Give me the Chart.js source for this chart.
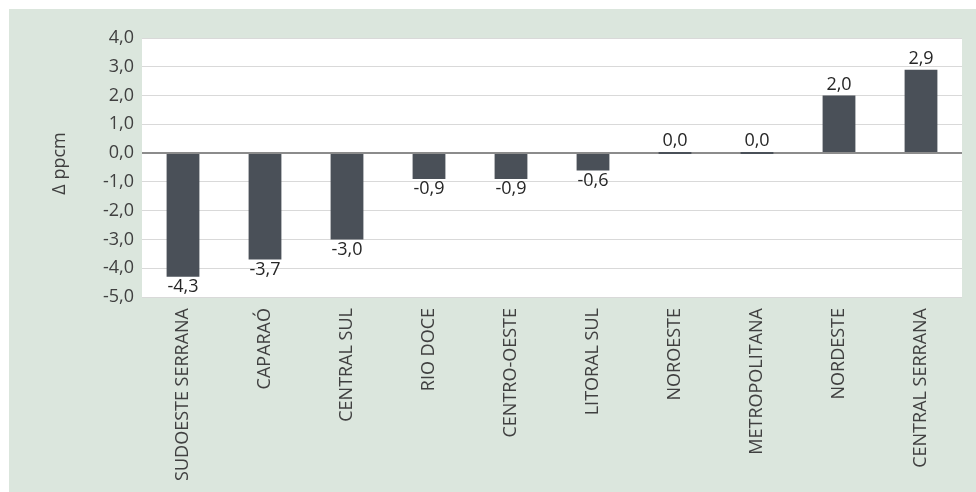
<!DOCTYPE html>
<html>
<head>
<meta charset="utf-8">
<script src="https://cdn.jsdelivr.net/npm/chart.js@4"></script>
<style>
    body { margin: 0; background: #ffffff; overflow: hidden; }
    .panel {
        position: absolute;
        left: 9px;
        top: 9px;
        width: 967px;
        height: 483px;
        background: #dbe6dd;
    }
    canvas { display: block; }
</style>
</head>
<body>
<div class="panel">
    <canvas id="chart" width="967" height="483"></canvas>
</div>
<script>
// Data
const regions = ['SUDOESTE SERRANA', 'CAPARAÓ', 'CENTRAL SUL', 'RIO DOCE', 'CENTRO-OESTE',
    'LITORAL SUL', 'NOROESTE', 'METROPOLITANA', 'NORDESTE', 'CENTRAL SERRANA'];
const deltaPpcm = [-4.3, -3.7, -3.0, -0.9, -0.9, -0.6, 0.0, 0.0, 2.0, 2.9];
const yTicks = [4, 3, 2, 1, 0, -1, -2, -3, -4, -5];
const axisTitle = 'Δ ppcm';

const fontFamily = "'Open Sans', 'Noto Sans', sans-serif";
const fontSize = 18;
const fmt = v => v.toFixed(1).replace('.', ',');

// White plot area, value labels and the axis title
const decorPlugin = {
    id: 'decor',
    beforeDraw(chart) {
        const { ctx, chartArea: a } = chart;
        ctx.save();
        ctx.fillStyle = '#ffffff';
        ctx.fillRect(a.left, a.top, a.right - a.left, a.bottom - a.top);
        ctx.restore();
    },
    afterDatasetsDraw(chart) {
        const { ctx, chartArea: a } = chart;
        const meta = chart.getDatasetMeta(0);
        ctx.save();
        ctx.font = fontSize + 'px ' + fontFamily;
        ctx.fillStyle = '#262626';
        ctx.textAlign = 'center';
        meta.data.forEach((bar, i) => {
            const v = deltaPpcm[i];
            if (v >= 0) {
                ctx.textBaseline = 'alphabetic';
                ctx.fillText(fmt(v), bar.x, Math.min(bar.y, bar.base) - 6);
            } else {
                ctx.textBaseline = 'top';
                ctx.fillText(fmt(v), bar.x, bar.y + 1);
            }
        });
        // y axis title
        ctx.translate(51, (a.top + a.bottom) / 2 - 4);
        ctx.rotate(-Math.PI / 2);
        ctx.textBaseline = 'middle';
        ctx.fillStyle = '#404040';
        ctx.fillText(axisTitle, 0, 0);
        ctx.restore();
    }
};

new Chart(document.getElementById('chart'), {
    type: 'bar',
    data: {
        labels: regions,
        datasets: [{
            data: deltaPpcm,
            backgroundColor: '#4a5058',
            barPercentage: 0.4,
            categoryPercentage: 1,
            minBarLength: 2
        }]
    },
    options: {
        responsive: false,
        animation: false,
        layout: { padding: { top: 29, right: 14, left: 0, bottom: 0 } },
        plugins: {
            legend: { display: false },
            tooltip: { enabled: false }
        },
        scales: {
            x: {
                grid: { display: false },
                border: { display: false },
                ticks: {
                    color: '#404040',
                    font: { family: fontFamily, size: fontSize },
                    maxRotation: 90,
                    minRotation: 90,
                    padding: 3
                },
                afterFit(scale) { scale.height = 195; }
            },
            y: {
                min: -5,
                max: 4,
                afterBuildTicks(scale) {
                    scale.ticks = yTicks.map(v => ({ value: v }));
                },
                grid: {
                    drawTicks: false,
                    color: ctx => ctx.tick && ctx.tick.value === 0 ? '#8c8c8c' : '#d9d9d9',
                    lineWidth: ctx => ctx.tick && ctx.tick.value === 0 ? 2 : 1
                },
                border: { display: false },
                ticks: {
                    color: '#404040',
                    font: { family: fontFamily, size: fontSize },
                    padding: 8,
                    callback: v => fmt(v)
                },
                afterFit(scale) { scale.width = 133; }
            }
        }
    },
    plugins: [decorPlugin]
});
</script>
</body>
</html>
